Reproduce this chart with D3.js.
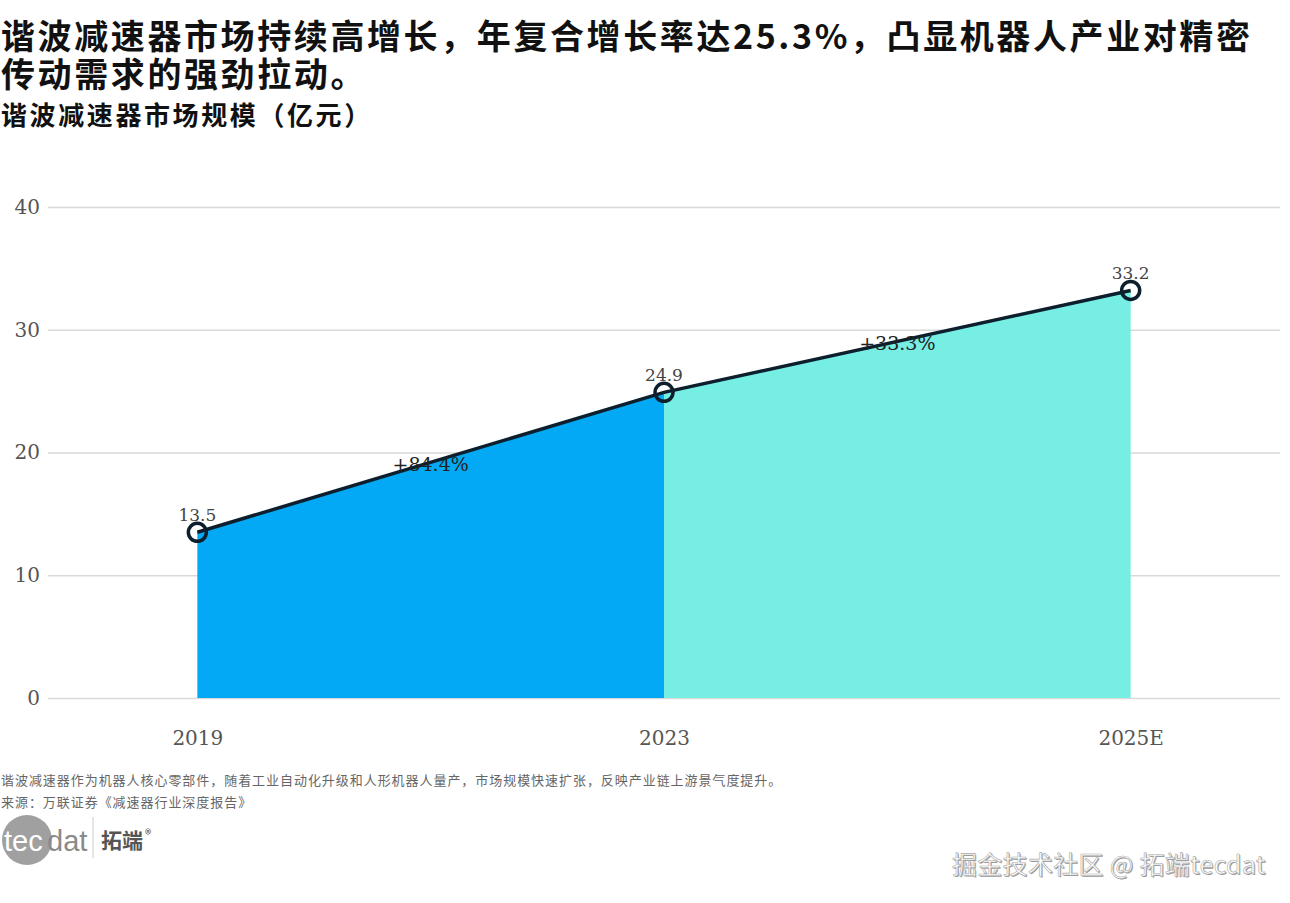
<!DOCTYPE html>
<html><head><meta charset="utf-8">
<script src="https://cdn.jsdelivr.net/npm/d3@7/dist/d3.min.js"></script>
<style>
html,body{margin:0;padding:0;background:#fff;}
svg{display:block;}
</style></head>
<body>
<svg id="c" width="1290" height="903"></svg>
<script>
const categories = ["2019", "2023", "2025E"];
const values = [13.5, 24.9, 33.2];
const growthLabels = ["+84.4%", "+33.3%"];
const yTicks = [0, 10, 20, 30, 40];
const segmentColors = ["#03A9F4", "#76EEE4"];

const svg = d3.select("#c");
const W = 1290, H = 903;
const m = {left: 48, right: 10};
const x = d3.scalePoint().domain(categories).range([m.left, W - m.right]).padding(0.32);
const y = d3.scaleLinear().domain([0, 40]).range([698, 207]);

const serif = "'DejaVu Serif','Liberation Serif','Noto Sans CJK SC',serif";
const cjk = "'Noto Sans CJK SC','Noto Sans',sans-serif";

// Titles (one wrapped title as a single text element)
const t = svg.append("g").attr("font-family", cjk).attr("font-weight", "bold").attr("fill", "#111");
const title = t.append("text").attr("font-size", 34).attr("letter-spacing", 2.6);
title.append("tspan").attr("x", 1).attr("y", 49).text("谐波减速器市场持续高增长，年复合增长率达25.3%，凸显机器人产业对精密");
title.append("tspan").attr("x", 1).attr("y", 87).text("传动需求的强劲拉动。");
t.append("text").attr("x", 1).attr("y", 125).attr("font-size", 26).attr("letter-spacing", 2.6).text("谐波减速器市场规模（亿元）");

// Grid
const yAxis = d3.axisLeft(y).tickValues(yTicks).tickSize(-(W - m.right - m.left)).tickPadding(8).tickFormat(d3.format("d"));
const ga = svg.append("g").attr("transform", `translate(${m.left},0)`).call(yAxis);
ga.select(".domain").remove();
ga.selectAll(".tick line").attr("stroke", "#d9d9d9").attr("stroke-width", 1.3);
ga.selectAll(".tick text").attr("font-family", serif).attr("font-size", 20).attr("fill", "#555");

// Areas per segment
const data = categories.map((c, i) => ({c, v: values[i]}));
const area = d3.area().x(d => x(d.c)).y0(y(0)).y1(d => y(d.v));
for (let i = 0; i < data.length - 1; i++) {
  svg.append("path").datum([data[i], data[i+1]]).attr("d", area).attr("fill", segmentColors[i]);
}

// X axis labels
const xAxis = d3.axisBottom(x).tickSize(0).tickPadding(12);
const gx = svg.append("g").attr("transform", `translate(0,${y(0) + 21})`).call(xAxis);
gx.select(".domain").remove();
gx.selectAll(".tick text").attr("font-family", serif).attr("font-size", 20).attr("fill", "#555");

// Line
const line = d3.line().x(d => x(d.c)).y(d => y(d.v));
svg.append("path").datum(data).attr("d", line).attr("fill", "none").attr("stroke", "#0d1f2d").attr("stroke-width", 3.5);

// Markers
svg.selectAll("circle.pt").data(data).join("circle").attr("class", "pt")
  .attr("cx", d => x(d.c)).attr("cy", d => y(d.v)).attr("r", 9)
  .attr("fill", "none").attr("stroke", "#0d1f2d").attr("stroke-width", 3.5);

// Value labels
svg.selectAll("text.val").data(data).join("text").attr("class", "val")
  .attr("x", d => x(d.c)).attr("y", d => y(d.v) - 11)
  .attr("text-anchor", "middle").attr("font-family", serif).attr("font-size", 17).attr("fill", "#444")
  .text(d => d.v.toFixed(1));

// Growth labels
for (let i = 0; i < growthLabels.length; i++) {
  const mx = (x(data[i].c) + x(data[i+1].c)) / 2;
  const my = (y(data[i].v) + y(data[i+1].v)) / 2;
  svg.append("text").attr("x", mx).attr("y", my + 9).attr("text-anchor", "middle")
    .attr("font-family", serif).attr("font-size", 19).attr("fill", "#222").text(growthLabels[i]);
}

// Footnotes
const f = svg.append("g").attr("font-family", cjk).attr("font-size", 13).attr("letter-spacing", 0.95).attr("fill", "#666");
f.append("text").attr("x", 1).attr("y", 785).text("谐波减速器作为机器人核心零部件，随着工业自动化升级和人形机器人量产，市场规模快速扩张，反映产业链上游景气度提升。");
f.append("text").attr("x", 1).attr("y", 807).text("来源：万联证券《减速器行业深度报告》");

// Logo
const lg = svg.append("g");
lg.append("circle").attr("cx", 27).attr("cy", 840).attr("r", 25).attr("fill", "#a0a0a0");
lg.append("text").attr("x", 4).attr("y", 851).attr("font-family", "'Liberation Sans',Arial,sans-serif").attr("font-size", 29)
  .attr("fill", "#fff").text("tec");
lg.append("text").attr("x", 47).attr("y", 851).attr("font-family", "'Liberation Sans',Arial,sans-serif").attr("font-size", 29)
  .attr("fill", "#8a8a8a").text("dat");
lg.append("line").attr("x1", 93).attr("x2", 93).attr("y1", 817).attr("y2", 858).attr("stroke", "#ccc").attr("stroke-width", 1);
lg.append("text").attr("x", 101).attr("y", 848).attr("font-family", cjk).attr("font-weight", "bold").attr("font-size", 21)
  .attr("fill", "#555").text("拓端");
lg.append("text").attr("x", 145).attr("y", 839).attr("font-family", cjk).attr("font-size", 13)
  .attr("fill", "#555").text("®");

// Watermark
const wm = svg.append("g").attr("font-family", cjk).attr("font-size", 25).attr("letter-spacing", 0.3);
wm.append("text").attr("x", 953).attr("y", 875).attr("fill", "#999").text("掘金技术社区 @ 拓端tecdat");
wm.append("text").attr("x", 952).attr("y", 874).attr("fill", "#fff").attr("stroke", "#aaa").attr("stroke-width", 0.6).text("掘金技术社区 @ 拓端tecdat");
</script>
</body></html>
